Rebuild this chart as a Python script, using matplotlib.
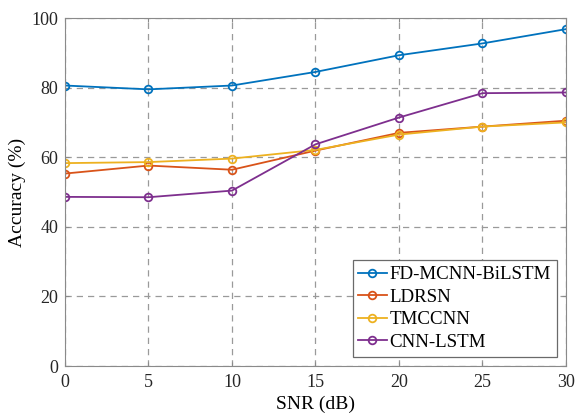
import matplotlib
matplotlib.use("Agg")
import matplotlib.pyplot as plt

snr = [0, 5, 10, 15, 20, 25, 30]
fd_mcnn_bilstm = [80.6, 79.5, 80.6, 84.5, 89.3, 92.7, 96.8]
ldrsn = [55.3, 57.6, 56.4, 61.9, 67.0, 68.8, 70.5]
tmccnn = [58.3, 58.6, 59.6, 62.1, 66.5, 68.8, 70.0]
cnn_lstm = [48.6, 48.5, 50.4, 63.7, 71.4, 78.4, 78.6]
labels = ["FD-MCNN-BiLSTM", "LDRSN", "TMCCNN", "CNN-LSTM"]
colors = ["#0072BD", "#D95319", "#EDB120", "#7E2F8E"]

plt.rcParams['font.family'] = ['Liberation Serif', 'DejaVu Serif']
plt.rcParams['mathtext.fontset'] = 'stix'

fig = plt.figure(figsize=(5.76, 4.17), dpi=100)
ax = fig.add_axes([0.1128, 0.1223, 0.8698, 0.8345])

for y, lab, c in zip([fd_mcnn_bilstm, ldrsn, tmccnn, cnn_lstm], labels, colors):
    ax.plot(snr, y, '-o', color=c, label=lab, lw=1.3, ms=5.5, mfc='none', mew=1.3)

ax.set_xlim(0, 30)
ax.set_ylim(0, 100)
ax.set_xticks(snr)
ax.set_yticks([0, 20, 40, 60, 80, 100])
ax.grid(True, ls=(0, (5, 4)), color='#9a9a9a', lw=0.9)
ax.set_axisbelow(True)
ax.tick_params(direction='in', top=True, right=True, labelsize=13, colors='#8a8a8a',
               labelcolor='#262626', length=3)
ax.tick_params(axis='x', pad=6)
ax.tick_params(axis='y', pad=5)
for s in ax.spines.values():
    s.set_color('#8a8a8a')
    s.set_linewidth(0.8)
ax.set_xlabel('SNR (dB)', fontsize=14, labelpad=3)
ax.set_ylabel('Accuracy (%)', fontsize=14, labelpad=4)
leg = ax.legend(loc='lower right', fontsize=13.6, fancybox=False, framealpha=1,
                edgecolor='#6a6a6a', handlelength=1.5, handletextpad=0.15,
                borderpad=0.3, labelspacing=0.28, borderaxespad=0.5)
leg.get_frame().set_linewidth(0.9)

fig.savefig('out.png', dpi=100)
